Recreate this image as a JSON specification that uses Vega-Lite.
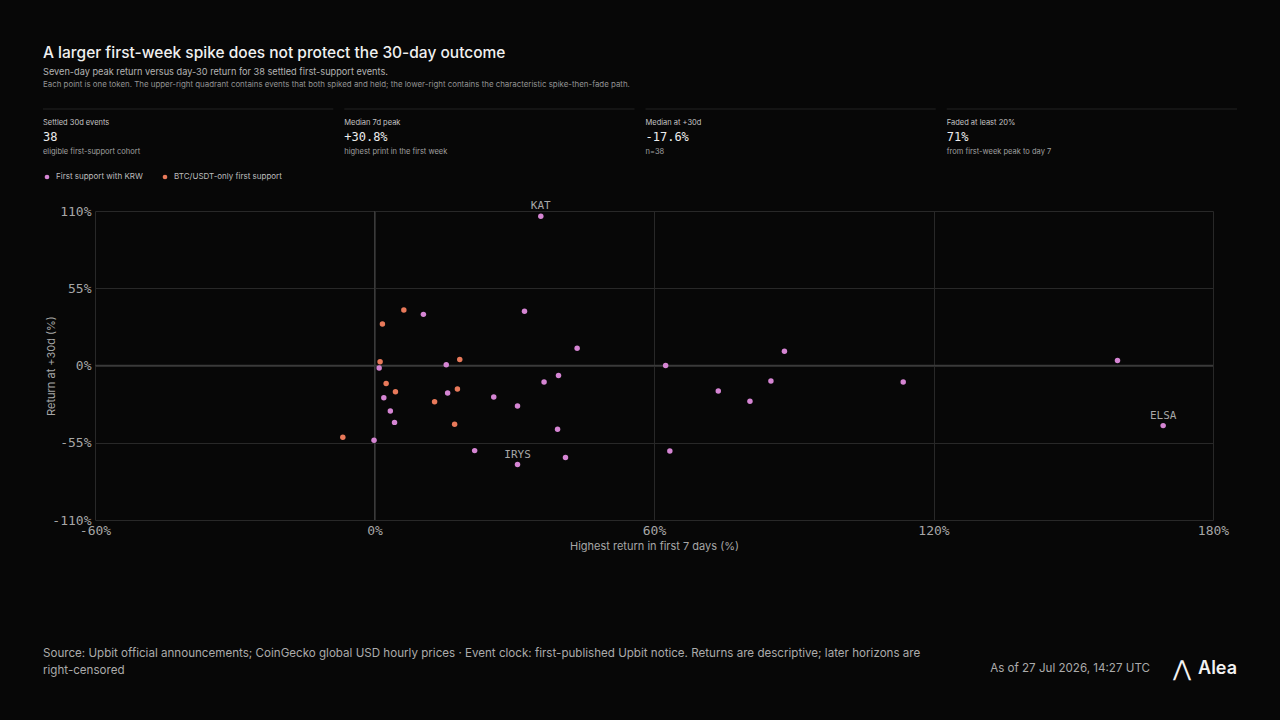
{
  "$schema": "https://vega.github.io/schema/vega-lite/v6.json",
  "background": "#070707",
  "padding": {"left": 43, "top": 0, "right": 43, "bottom": 0},
  "spacing": 6,
  "config": {
    "view": {"stroke": null},
    "font": "Inter",
    "text": {"font": "Inter"}
  },
  "vconcat": [
    {
      "width": 1118,
      "height": 194,
      "data": {
        "values": [
          {"col": "1", "kind": "title", "text": "A larger first-week spike does not protect the 30-day outcome"},
          {"col": "1", "kind": "sub", "text": "Seven-day peak return versus day-30 return for 38 settled first-support events."},
          {"col": "1", "kind": "note", "text": "Each point is one token. The upper-right quadrant contains events that both spiked and held; the lower-right contains the characteristic spike-then-fade path."},
          {"col": "1", "kind": "rule", "text": ""},
          {"col": "2", "kind": "rule", "text": ""},
          {"col": "3", "kind": "rule", "text": ""},
          {"col": "4", "kind": "rule", "text": ""},
          {"col": "1", "kind": "label", "text": "Settled 30d events"},
          {"col": "1", "kind": "value", "text": "38"},
          {"col": "1", "kind": "detail", "text": "eligible first-support cohort"},
          {"col": "2", "kind": "label", "text": "Median 7d peak"},
          {"col": "2", "kind": "value", "text": "+30.8%"},
          {"col": "2", "kind": "detail", "text": "highest print in the first week"},
          {"col": "3", "kind": "label", "text": "Median at +30d"},
          {"col": "3", "kind": "value", "text": "-17.6%"},
          {"col": "3", "kind": "detail", "text": "n=38"},
          {"col": "4", "kind": "label", "text": "Faded at least 20%"},
          {"col": "4", "kind": "value", "text": "71%"},
          {"col": "4", "kind": "detail", "text": "from first-week peak to day 7"}
        ]
      },
      "encoding": {
        "x": {
          "field": "col", "type": "ordinal", "bandPosition": 0, "axis": null,
          "scale": {"type": "band", "domain": ["1", "2", "3", "4"], "range": [-52, 1142], "paddingInner": 0.0365, "paddingOuter": 0}
        },
        "y": {
          "field": "kind", "type": "nominal", "axis": null,
          "scale": {"type": "point", "domain": ["title", "sub", "note", "rule", "label", "value", "detail"], "range": [53, 152], "padding": 0}
        }
      },
      "layer": [
        {
          "transform": [{"filter": "datum.kind === 'title'"}],
          "mark": {"type": "text", "align": "left", "baseline": "middle", "fontSize": 15.5, "fontWeight": 500, "color": "#f0f0f0"},
          "encoding": {"text": {"field": "text"}}
        },
        {
          "transform": [{"filter": "datum.kind === 'sub'"}],
          "mark": {"type": "text", "align": "left", "baseline": "middle", "fontSize": 9.2, "dy": 2.5, "color": "#b4b4b4"},
          "encoding": {"text": {"field": "text"}}
        },
        {
          "transform": [{"filter": "datum.kind === 'note'"}],
          "mark": {"type": "text", "align": "left", "baseline": "middle", "fontSize": 7.9, "dy": -1, "color": "#939393"},
          "encoding": {"text": {"field": "text"}}
        },
        {
          "transform": [{"filter": "datum.kind === 'rule'"}],
          "mark": {"type": "rect", "height": 1, "yOffset": 6.5, "color": "#222222"},
          "encoding": {"x": {"field": "col", "type": "ordinal"}}
        },
        {
          "transform": [{"filter": "datum.kind === 'label'"}],
          "mark": {"type": "text", "align": "left", "baseline": "middle", "fontSize": 7.5, "dy": 4, "color": "#c4c4c4"},
          "encoding": {"text": {"field": "text"}}
        },
        {
          "transform": [{"filter": "datum.kind === 'value'"}],
          "mark": {"type": "text", "align": "left", "baseline": "middle", "font": "DejaVu Sans Mono", "fontSize": 12, "dy": 1.5, "color": "#ededed"},
          "encoding": {"text": {"field": "text"}}
        },
        {
          "transform": [{"filter": "datum.kind === 'detail'"}],
          "mark": {"type": "text", "align": "left", "baseline": "middle", "fontSize": 7.5, "dy": -0.5, "color": "#a0a0a0"},
          "encoding": {"text": {"field": "text"}}
        }
      ]
    },
    {
      "width": 1118,
      "height": 309,
      "data": {
        "values": [
          {"label": "KAT", "group": "First support with KRW", "peak": 35.7, "d30": 106.2},
          {"label": null, "group": "BTC/USDT-only first support", "peak": 6.3, "d30": 39.5},
          {"label": null, "group": "First support with KRW", "peak": 10.5, "d30": 36.4},
          {"label": null, "group": "BTC/USDT-only first support", "peak": 1.7, "d30": 29.6},
          {"label": null, "group": "First support with KRW", "peak": 32.2, "d30": 38.6},
          {"label": null, "group": "First support with KRW", "peak": 43.5, "d30": 12.3},
          {"label": null, "group": "BTC/USDT-only first support", "peak": 1.2, "d30": 2.6},
          {"label": null, "group": "First support with KRW", "peak": 1.0, "d30": -1.7},
          {"label": null, "group": "First support with KRW", "peak": 15.4, "d30": 0.5},
          {"label": null, "group": "BTC/USDT-only first support", "peak": 18.3, "d30": 4.3},
          {"label": null, "group": "BTC/USDT-only first support", "peak": 2.5, "d30": -12.8},
          {"label": null, "group": "BTC/USDT-only first support", "peak": 4.5, "d30": -18.7},
          {"label": null, "group": "First support with KRW", "peak": 2.0, "d30": -22.9},
          {"label": null, "group": "First support with KRW", "peak": 15.7, "d30": -19.6},
          {"label": null, "group": "BTC/USDT-only first support", "peak": 17.8, "d30": -16.8},
          {"label": null, "group": "First support with KRW", "peak": 25.6, "d30": -22.5},
          {"label": null, "group": "BTC/USDT-only first support", "peak": 12.9, "d30": -25.8},
          {"label": null, "group": "First support with KRW", "peak": 30.7, "d30": -28.9},
          {"label": null, "group": "First support with KRW", "peak": 3.4, "d30": -32.4},
          {"label": null, "group": "First support with KRW", "peak": 4.3, "d30": -40.5},
          {"label": null, "group": "BTC/USDT-only first support", "peak": 17.2, "d30": -41.9},
          {"label": null, "group": "First support with KRW", "peak": 39.3, "d30": -45.4},
          {"label": null, "group": "BTC/USDT-only first support", "peak": -6.8, "d30": -51.1},
          {"label": null, "group": "First support with KRW", "peak": -0.1, "d30": -53.2},
          {"label": null, "group": "First support with KRW", "peak": 21.5, "d30": -60.6},
          {"label": "IRYS", "group": "First support with KRW", "peak": 30.7, "d30": -70.5},
          {"label": null, "group": "First support with KRW", "peak": 41.0, "d30": -65.5},
          {"label": null, "group": "First support with KRW", "peak": 36.4, "d30": -11.8},
          {"label": null, "group": "First support with KRW", "peak": 39.5, "d30": -7.1},
          {"label": null, "group": "First support with KRW", "peak": 62.5, "d30": 0.0},
          {"label": null, "group": "First support with KRW", "peak": 88.0, "d30": 10.2},
          {"label": null, "group": "First support with KRW", "peak": 73.8, "d30": -18.2},
          {"label": null, "group": "First support with KRW", "peak": 80.6, "d30": -25.5},
          {"label": null, "group": "First support with KRW", "peak": 85.1, "d30": -11.1},
          {"label": null, "group": "First support with KRW", "peak": 113.5, "d30": -11.8},
          {"label": null, "group": "First support with KRW", "peak": 159.5, "d30": 3.5},
          {"label": "ELSA", "group": "First support with KRW", "peak": 169.3, "d30": -42.8},
          {"label": null, "group": "First support with KRW", "peak": 63.4, "d30": -60.8}
        ]
      },
      "layer": [
        {
          "data": {"values": [{"ref": "zero"}]},
          "mark": {"type": "rule", "color": "#3a3a3a", "strokeWidth": 1},
          "encoding": {"x": {"datum": 0, "type": "quantitative"}}
        },
        {
          "data": {"values": [{"ref": "zero"}]},
          "mark": {"type": "rule", "color": "#3a3a3a", "strokeWidth": 1.5},
          "encoding": {"y": {"datum": 0, "type": "quantitative"}}
        },
        {
          "mark": {"type": "point", "filled": true, "size": 30, "opacity": 1},
          "encoding": {
            "x": {
              "field": "peak", "type": "quantitative",
              "scale": {"domain": [-60, 180], "nice": false, "zero": false},
              "axis": {
                "values": [-60, 0, 60, 120, 180], "labelExpr": "datum.value + '%'",
                "title": "Highest return in first 7 days (%)",
                "grid": true, "gridColor": "#282828", "domain": false, "ticks": false,
                "labelFlush": false, "labelPadding": 4, "labelFont": "DejaVu Sans Mono", "labelFontSize": 13, "labelColor": "#a6a6a6",
                "titleFont": "Inter", "titleFontSize": 11, "titleFontWeight": "normal", "titleColor": "#a6a6a6", "titlePadding": 3
              }
            },
            "y": {
              "field": "d30", "type": "quantitative",
              "scale": {"domain": [-110, 110], "nice": false, "zero": false},
              "axis": {
                "values": [-110, -55, 0, 55, 110], "labelExpr": "datum.value + '%'",
                "title": "Return at +30d (%)",
                "grid": true, "gridColor": "#282828", "domain": false, "ticks": false,
                "labelFlush": false, "labelPadding": 4, "labelFont": "DejaVu Sans Mono", "labelFontSize": 13, "labelColor": "#a6a6a6",
                "titleFont": "Inter", "titleFontSize": 11, "titleFontWeight": "normal", "titleColor": "#a6a6a6", "titlePadding": -5
              }
            },
            "color": {
              "field": "group", "type": "nominal",
              "scale": {"domain": ["First support with KRW", "BTC/USDT-only first support"], "range": ["#d585d3", "#e8795a"]},
              "legend": {
                "orient": "none", "legendX": -52, "legendY": 173, "direction": "horizontal", "title": null,
                "symbolType": "circle", "symbolSize": 22, "symbolStrokeWidth": 0,
                "labelFont": "Inter", "labelFontSize": 8, "labelColor": "#bdbdbd",
                "columnPadding": 18, "labelOffset": 5, "padding": 0
              }
            }
          }
        },
        {
          "transform": [{"filter": "datum.label != null"}],
          "mark": {"type": "text", "dy": -10, "font": "DejaVu Sans Mono", "fontSize": 11, "color": "#a8a8a8"},
          "encoding": {
            "x": {"field": "peak", "type": "quantitative"},
            "y": {"field": "d30", "type": "quantitative"},
            "text": {"field": "label"}
          }
        }
      ]
    },
    {
      "width": 1118,
      "height": 163,
      "data": {
        "values": [
          {"item": "source", "side": "left", "line": "first", "text": "Source: Upbit official announcements; CoinGecko global USD hourly prices · Event clock: first-published Upbit notice. Returns are descriptive; later horizons are"},
          {"item": "source", "side": "left", "line": "second", "text": "right-censored"},
          {"item": "asof", "side": "right", "line": "second", "text": "As of 27 Jul 2026, 14:27 UTC"},
          {"item": "mark", "side": "right", "line": "second", "text": "⋀"},
          {"item": "brand", "side": "right", "line": "second", "text": "Alea"}
        ]
      },
      "encoding": {
        "x": {
          "field": "side", "type": "nominal", "axis": null,
          "scale": {"type": "point", "domain": ["left", "right"], "range": [-52, 1142], "padding": 0}
        },
        "y": {
          "field": "line", "type": "nominal", "axis": null,
          "scale": {"type": "point", "domain": ["first", "second"], "range": [97, 114], "padding": 0}
        }
      },
      "layer": [
        {
          "transform": [{"filter": "datum.item === 'source'"}],
          "mark": {"type": "text", "align": "left", "baseline": "middle", "fontSize": 11.6, "color": "#ababab"},
          "encoding": {"text": {"field": "text"}}
        },
        {
          "transform": [{"filter": "datum.item === 'asof'"}],
          "mark": {"type": "text", "align": "right", "baseline": "middle", "fontSize": 11.6, "dx": -87, "dy": -2, "color": "#ababab"},
          "encoding": {"text": {"field": "text"}}
        },
        {
          "transform": [{"filter": "datum.item === 'mark'"}],
          "mark": {"type": "text", "align": "right", "baseline": "middle", "font": "DejaVu Sans", "fontSize": 22, "dx": -46, "dy": -2, "color": "#f2f2f2"},
          "encoding": {"text": {"field": "text"}}
        },
        {
          "transform": [{"filter": "datum.item === 'brand'"}],
          "mark": {"type": "text", "align": "right", "baseline": "middle", "fontSize": 18, "fontWeight": 600, "dy": -2, "color": "#f2f2f2"},
          "encoding": {"text": {"field": "text"}}
        }
      ]
    }
  ]
}
